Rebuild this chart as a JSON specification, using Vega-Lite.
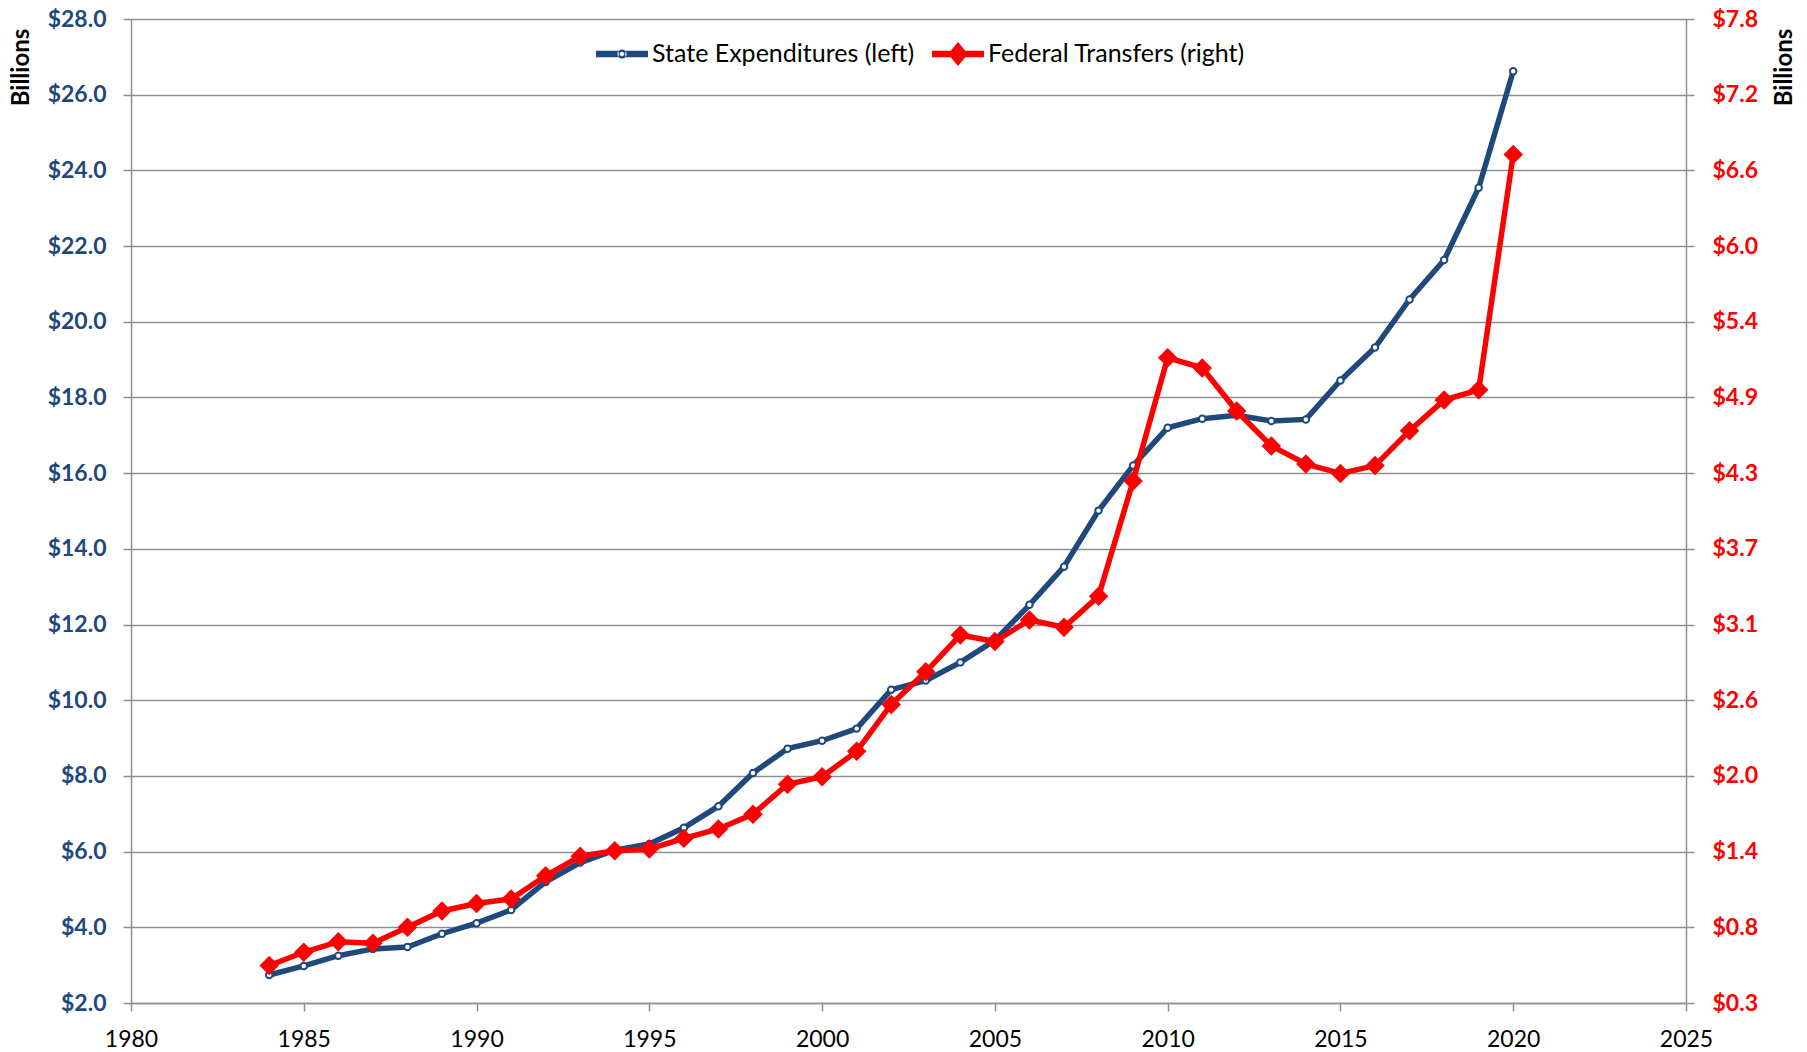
{
  "$schema": "https://vega.github.io/schema/vega-lite/v6.json",
  "width": 1555,
  "height": 984,
  "autosize": {"type": "none"},
  "padding": {"left": 131, "top": 19, "right": 121, "bottom": 49},
  "background": "white",
  "config": {
    "font": "Lato",
    "view": {"stroke": null},
    "axis": {
      "domainColor": "#8f8f8f",
      "domainWidth": 1.5,
      "tickColor": "#8f8f8f",
      "tickWidth": 1.5,
      "tickSize": 8,
      "gridColor": "#8f8f8f",
      "gridWidth": 1.5
    }
  },
  "data": {
    "values": [
      {"year": 1984, "state": 2.74, "federal": 0.536},
      {"year": 1985, "state": 2.98, "federal": 0.637},
      {"year": 1986, "state": 3.25, "federal": 0.718},
      {"year": 1987, "state": 3.43, "federal": 0.706},
      {"year": 1988, "state": 3.48, "federal": 0.828},
      {"year": 1989, "state": 3.83, "federal": 0.952},
      {"year": 1990, "state": 4.11, "federal": 1.009},
      {"year": 1991, "state": 4.46, "federal": 1.044},
      {"year": 1992, "state": 5.2, "federal": 1.22},
      {"year": 1993, "state": 5.71, "federal": 1.37},
      {"year": 1994, "state": 6.04, "federal": 1.411},
      {"year": 1995, "state": 6.2, "federal": 1.425},
      {"year": 1996, "state": 6.63, "federal": 1.506},
      {"year": 1997, "state": 7.2, "federal": 1.578},
      {"year": 1998, "state": 8.08, "federal": 1.691},
      {"year": 1999, "state": 8.72, "federal": 1.919},
      {"year": 2000, "state": 8.93, "federal": 1.977},
      {"year": 2001, "state": 9.25, "federal": 2.17},
      {"year": 2002, "state": 10.28, "federal": 2.528},
      {"year": 2003, "state": 10.52, "federal": 2.777},
      {"year": 2004, "state": 11.0, "federal": 3.057},
      {"year": 2005, "state": 11.58, "federal": 3.008},
      {"year": 2006, "state": 12.52, "federal": 3.172},
      {"year": 2007, "state": 13.53, "federal": 3.117},
      {"year": 2008, "state": 15.01, "federal": 3.354},
      {"year": 2009, "state": 16.2, "federal": 4.232},
      {"year": 2010, "state": 17.2, "federal": 5.173},
      {"year": 2011, "state": 17.44, "federal": 5.095},
      {"year": 2012, "state": 17.53, "federal": 4.766},
      {"year": 2013, "state": 17.38, "federal": 4.5},
      {"year": 2014, "state": 17.42, "federal": 4.362},
      {"year": 2015, "state": 18.45, "federal": 4.29},
      {"year": 2016, "state": 19.32, "federal": 4.35},
      {"year": 2017, "state": 20.59, "federal": 4.616},
      {"year": 2018, "state": 21.63, "federal": 4.85},
      {"year": 2019, "state": 23.54, "federal": 4.928},
      {"year": 2020, "state": 26.62, "federal": 6.724}
    ]
  },
  "layer": [
    {
      "encoding": {
        "x": {
          "field": "year",
          "type": "quantitative",
          "scale": {"domain": [1980, 2025], "nice": false, "zero": false},
          "axis": {
            "title": null,
            "values": [1980, 1985, 1990, 1995, 2000, 2005, 2010, 2015, 2020, 2025],
            "format": "d",
            "grid": false,
            "labelFontSize": 23,
            "labelColor": "black",
            "labelPadding": 17,
            "labelFlush": false
          }
        },
        "y": {
          "field": "state",
          "type": "quantitative",
          "scale": {"domain": [2, 28], "nice": false, "zero": false},
          "axis": {
            "title": "Billions",
            "titleFontSize": 24,
            "titleFontWeight": "bold",
            "titleColor": "black",
            "titleAngle": -90,
            "titleX": -110,
            "titleY": 48,
            "titleAlign": "center",
            "titleBaseline": "middle",
            "values": [2, 4, 6, 8, 10, 12, 14, 16, 18, 20, 22, 24, 26, 28],
            "format": "$.1f",
            "grid": true,
            "labelFontSize": 23,
            "labelFontWeight": "bold",
            "labelColor": "#1F497D",
            "labelPadding": 17
          }
        }
      },
      "layer": [
        {"mark": {"type": "line", "color": "#1F497D", "strokeWidth": 5.5}},
        {"mark": {"type": "point", "shape": "circle", "filled": true, "fill": "white", "stroke": "#1F497D", "strokeWidth": 2, "size": 42, "opacity": 1}}
      ]
    },
    {
      "encoding": {
        "x": {"field": "year", "type": "quantitative", "scale": {"domain": [1980, 2025], "nice": false, "zero": false}},
        "y": {
          "field": "federal",
          "type": "quantitative",
          "scale": {"domain": [0.25, 7.7575], "nice": false, "zero": false},
          "axis": {
            "orient": "right",
            "title": "Billions",
            "titleFontSize": 24,
            "titleFontWeight": "bold",
            "titleColor": "black",
            "titleAngle": -90,
            "titleX": 98,
            "titleY": 48,
            "titleAlign": "center",
            "titleBaseline": "middle",
            "values": [0.25, 0.8275, 1.405, 1.9825, 2.56, 3.1375, 3.715, 4.2925, 4.87, 5.4475, 6.025, 6.6025, 7.18, 7.7575],
            "labelExpr": "['$0.3','$0.8','$1.4','$2.0','$2.6','$3.1','$3.7','$4.3','$4.9','$5.4','$6.0','$6.6','$7.2','$7.8'][round((datum.value-0.25)/0.5775)]",
            "grid": false,
            "labelFontSize": 23,
            "labelFontWeight": "bold",
            "labelColor": "#FF0000",
            "labelPadding": 18
          }
        }
      },
      "layer": [
        {"mark": {"type": "line", "color": "#FF0000", "strokeWidth": 5.5}},
        {"mark": {"type": "point", "shape": "diamond", "filled": true, "color": "#FF0000", "size": 380, "opacity": 1}}
      ]
    },
    {
      "data": {"values": [{"series": "State Expenditures (left)"}, {"series": "Federal Transfers (right)"}]},
      "mark": {"type": "point", "filled": true, "size": 0, "opacity": 1},
      "encoding": {
        "color": {
          "field": "series",
          "type": "nominal",
          "scale": {"domain": ["State Expenditures (left)", "Federal Transfers (right)"], "range": ["#1F497D", "#FF0000"]},
          "legend": {
            "title": null,
            "orient": "none",
            "legendX": 465,
            "legendY": 9,
            "direction": "horizontal",
            "symbolSize": 2704,
            "symbolStrokeWidth": 0,
            "symbolOpacity": 1,
            "labelFontSize": 25,
            "labelLimit": 0,
            "labelColor": "black",
            "labelOffset": 4,
            "columnPadding": 17,
            "padding": 0
          }
        },
        "shape": {
          "field": "series",
          "type": "nominal",
          "scale": {
            "domain": ["State Expenditures (left)", "Federal Transfers (right)"],
            "range": [
              "M-1,-0.127L-0.13,-0.127L-0.13,0.127L-1,0.127Z M0.13,-0.127L1,-0.127L1,0.127L0.13,0.127Z M0.175,0A0.175,0.175,0,1,0,-0.175,0A0.175,0.175,0,1,0,0.175,0Z M0.088,0A0.088,0.088,0,1,1,-0.088,0A0.088,0.088,0,1,1,0.088,0Z",
              "M-1,-0.127L1,-0.127L1,0.127L-1,0.127Z M0,-0.46L0.385,0L0,0.46L-0.385,0Z"
            ]
          }
        }
      }
    }
  ],
  "resolve": {"scale": {"y": "independent", "x": "shared"}}
}
